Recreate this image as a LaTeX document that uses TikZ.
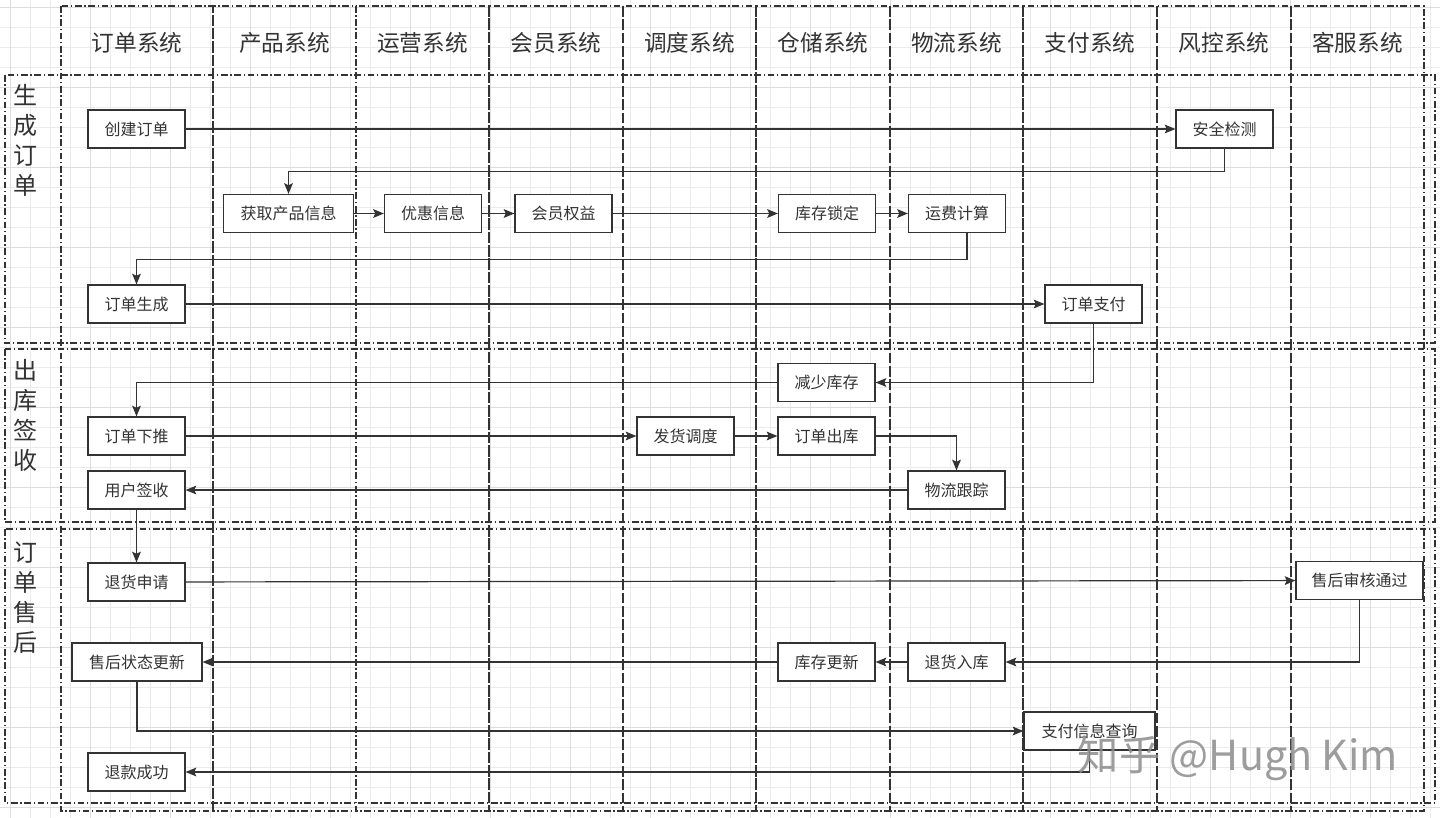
\documentclass[tikz,border=0pt]{standalone}
\usepackage{fontspec}
\newfontfamily\cjk{Noto Sans CJK SC}
\usetikzlibrary{arrows.meta}
\definecolor{ink}{HTML}{333333}
\definecolor{gridminor}{HTML}{EBEBEB}
\definecolor{gridmajor}{HTML}{DDDDDD}
\tikzset{
	pool/.style={draw=ink, line width=1pt, dash pattern=on 5pt off 2pt on 1pt off 2pt},
	task/.style={draw=ink, line width=0.9pt, fill=white, text=ink, inner sep=0pt,
		font=\cjk\fontsize{12}{14}\selectfont, minimum width=72.75pt, minimum height=28.5pt},
	widetask/.style={task, minimum width=97pt},
	flow/.style={draw=ink, line width=0.9pt, -{Stealth[length=8pt,width=6.5pt,inset=1.5pt]}},
	colhead/.style={text=ink, font=\cjk\fontsize{17}{20}\selectfont},
	lanehead/.style={text=ink, align=center, inner sep=0pt, anchor=north,
		font=\cjk\fontsize{18}{22.5}\selectfont}
}

\begin{document}
\begin{tikzpicture}[x=0.75pt, y=-0.75pt]
		%%%%% START %%%%%
		\useasboundingbox[fill=white] (0,0) rectangle (1440,818);
		
		% grid
		\foreach \gx in {10,30,...,1430} \draw[gridminor, line width=0.5pt] (\gx,0) -- (\gx,818);
		\foreach \gy in {7,27,...,807} \draw[gridminor, line width=0.5pt] (0,\gy) -- (1440,\gy);
		\foreach \gx in {10,90,...,1430} \draw[gridmajor, line width=0.6pt] (\gx,0) -- (\gx,818);
		\foreach \gy in {7,87,...,807} \draw[gridmajor, line width=0.6pt] (0,\gy) -- (1440,\gy);
		
		% columns
		\draw[pool] (61, 6) rectangle (213, 811);
		\draw[pool] (213, 6) rectangle (356, 811);
		\draw[pool] (356, 6) rectangle (489, 811);
		\draw[pool] (489, 6) rectangle (623, 811);
		\draw[pool] (623, 6) rectangle (756, 811);
		\draw[pool] (756, 6) rectangle (890, 811);
		\draw[pool] (890, 6) rectangle (1023, 811);
		\draw[pool] (1023, 6) rectangle (1157, 811);
		\draw[pool] (1157, 6) rectangle (1291, 811);
		\draw[pool] (1291, 6) rectangle (1424, 811);
		
		\node[colhead] (hOrder) at (137, 43) {订单系统};
		\node[colhead] (hProduct) at (284.5, 43) {产品系统};
		\node[colhead] (hOps) at (422.5, 43) {运营系统};
		\node[colhead] (hMember) at (556, 43) {会员系统};
		\node[colhead] (hDispatch) at (689.5, 43) {调度系统};
		\node[colhead] (hStore) at (823, 43) {仓储系统};
		\node[colhead] (hLogistic) at (956.5, 43) {物流系统};
		\node[colhead] (hPay) at (1090, 43) {支付系统};
		\node[colhead] (hRisk) at (1224, 43) {风控系统};
		\node[colhead] (hService) at (1357.5, 43) {客服系统};
		
		% lanes
		\draw[pool] (5, 75) rectangle (1435, 343);
		\draw[pool] (5, 349) rectangle (1435, 522);
		\draw[pool] (5, 529) rectangle (1435, 803);
		
		\node[lanehead] (lCreate) at (25, 84) {生\\成\\订\\单};
		\node[lanehead] (lShip) at (25, 359) {出\\库\\签\\收};
		\node[lanehead] (lAfter) at (25, 542) {订\\单\\售\\后};
		
		% stage 1
		\node[task] (create) at (136.5, 129) {创建订单};
		\node[task] (safety) at (1224.5, 129) {安全检测};
		\node[widetask] (getinfo) at (288.5, 213.5) {获取产品信息};
		\node[task] (discount) at (433, 213.5) {优惠信息};
		\node[task] (member) at (563.5, 213.5) {会员权益};
		\node[task] (lock) at (827, 213.5) {库存锁定};
		\node[task] (freight) at (957, 213.5) {运费计算};
		\node[task] (gen) at (136.5, 304) {订单生成};
		\node[task] (pay) at (1093.5, 304) {订单支付};
		
		% stage 2
		\node[task] (reduce) at (826.5, 382.5) {减少库存};
		\node[task] (push) at (136.5, 436) {订单下推};
		\node[task] (dispatch) at (685.5, 436) {发货调度};
		\node[task] (out) at (826.5, 436) {订单出库};
		\node[task] (track) at (956.5, 490) {物流跟踪};
		\node[task] (sign) at (136.5, 490) {用户签收};
		
		% stage 3
		\node[task] (apply) at (136.5, 582) {退货申请};
		\node[widetask, minimum width=95.25pt] (audit) at (1359.5, 580.5) {售后审核通过};
		\node[widetask, minimum width=97.5pt] (aftstate) at (137, 662) {售后状态更新};
		\node[task] (stockupd) at (826.5, 662) {库存更新};
		\node[task] (instock) at (956.5, 662) {退货入库};
		\node[widetask, minimum width=98.25pt] (payq) at (1089.5, 731) {支付信息查询};
		\node[task] (refund) at (136.5, 772) {退款成功};
		
		% flows
		\draw[flow] (create) -- (safety);
		\draw[flow] (safety.south) -- ++(0, 23) -| (getinfo.north);
		\draw[flow] (getinfo) -- (discount);
		\draw[flow] (discount) -- (member);
		\draw[flow] (member) -- (lock);
		\draw[flow] (lock) -- (freight);
		\draw[flow] ([xshift=7.5pt]freight.south) -- ++(0, 26) -| (gen.north);
		\draw[flow] (gen) -- (pay);
		
		\draw[flow] (pay.south) |- (reduce.east);
		\draw[flow] (reduce.west) -| (push.north);
		\draw[flow] (push) -- (dispatch);
		\draw[flow] (dispatch) -- (out);
		\draw[flow] (out.east) -| (track.north);
		\draw[flow] (track) -- (sign);
		\draw[flow] (sign) -- (apply);
		
		\draw[flow] (apply) -- (audit);
		\draw[flow] (audit.south) |- (instock.east);
		\draw[flow] (instock) -- (stockupd);
		\draw[flow] (stockupd) -- (aftstate);
		\draw[flow] (aftstate.south) |- (payq.west);
		\draw[flow] (payq.south) |- (refund.east);
		
		% watermark
		\node[text=black!45, opacity=0.85, font=\cjk\fontsize{31}{33}\selectfont] (mark) at (1238, 758) {知乎 @Hugh Kim};
		
		%%%%% END %%%%%
	\end{tikzpicture}
\end{document}
